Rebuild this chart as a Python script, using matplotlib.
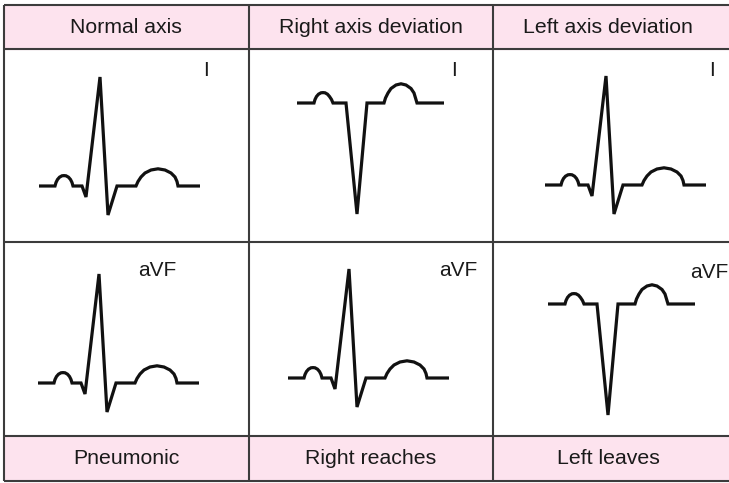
import numpy as np
import matplotlib.pyplot as plt
from matplotlib.patches import Rectangle

# column / row titles
header_labels = ["Normal axis", "Right axis deviation", "Left axis deviation"]
footer_labels = ["Pneumonic", "Right reaches", "Left leaves"]
lead_labels = ["I", "I", "I", "aVF", "aVF", "aVF"]

# ECG templates: time (px from start) and amplitude (px above baseline)
# upright QRS complex (positive deflection)
t_upright = [0, 16, 17, 18.5, 20.5, 23, 25, 27, 29.5, 31.5, 33, 34, 43, 47, 61, 69, 78, 97,
             99, 102, 106, 112, 119, 126, 132, 136, 138, 139, 161]
v_upright = [0, 0, 3.5, 6.5, 8.8, 10.2, 10.4, 10.2, 8.8, 6.5, 3.5, 0, 0, -11, 109, -29, 0, 0,
             4.5, 9, 13, 16, 17.2, 16, 13, 9, 4.5, 0, 0]
# inverted QRS complex (negative deflection)
t_inverted = [0, 17, 18, 19.5, 21.5, 24, 26, 28, 30.5, 32.5, 34.5, 36, 49, 60, 70, 87,
              88.5, 91, 94, 99, 104, 109, 114, 117, 118.5, 120, 147]
v_inverted = [0, 0, 3.5, 6.5, 8.8, 10.2, 10.4, 10.2, 8.8, 6.5, 3.5, 0, 0, -111, 0, 0,
              5, 10, 14.5, 18, 19.2, 18, 14.5, 10, 5, 0, 0]

# which template each panel uses (row-major: top row then bottom row)
panel_shape = ["up", "inv", "up", "up", "up", "inv"]

# layout
col_lines = [4, 249, 493]
row_lines = [5, 49, 242, 436, 481]
header_x = [126, 371, 608]
trace_start = [39, 297, 545, 38, 288, 548]
trace_base = [186, 103, 185, 383, 378, 304]
label_pos = [(206, 71), (454, 71), (712, 71), (157, 270), (458, 270), (709, 273)]

ink = "#111111"
grid_col = "#3c3c3c"
pink = "#fde3ee"

fig = plt.figure(figsize=(7.29, 4.83), dpi=100)
ax = fig.add_axes([0, 0, 1, 1])
ax.set_xlim(0, 729)
ax.set_ylim(483, 0)
ax.axis("off")

# pink header and footer bands
ax.add_patch(Rectangle((col_lines[0], row_lines[0]), 729 - col_lines[0],
                       row_lines[1] - row_lines[0], color=pink, zorder=0))
ax.add_patch(Rectangle((col_lines[0], row_lines[3]), 729 - col_lines[0],
                       row_lines[4] - row_lines[3], color=pink, zorder=0))

# table lines
ax.hlines(row_lines, col_lines[0], 729, color=grid_col, lw=1.5)
ax.vlines(col_lines, row_lines[0], row_lines[-1], color=grid_col, lw=1.5)

# titles
for x, txt in zip(header_x, header_labels):
    ax.text(x, (row_lines[0] + row_lines[1]) / 2 + 0.5, txt, ha="center", va="center",
            fontsize=15.3, family="Liberation Sans", color="#1a1a1a")
for x, txt in zip(header_x, footer_labels):
    ax.text(x, (row_lines[3] + row_lines[4]) / 2 + 0.5, txt, ha="center", va="center",
            fontsize=15.3, family="Liberation Sans", color="#1a1a1a")

# traces
for i in range(6):
    if panel_shape[i] == "up":
        t, v = np.array(t_upright), np.array(v_upright)
    else:
        t, v = np.array(t_inverted), np.array(v_inverted)
    ax.plot(trace_start[i] + t, trace_base[i] - v, color=ink, lw=2.3,
            solid_joinstyle="miter", solid_capstyle="butt")
    lx, ly = label_pos[i]
    ax.text(lx, ly, lead_labels[i], ha="center", va="center", fontsize=15,
            family="Liberation Sans", color="#1a1a1a")

fig.savefig("out.png", dpi=100)
